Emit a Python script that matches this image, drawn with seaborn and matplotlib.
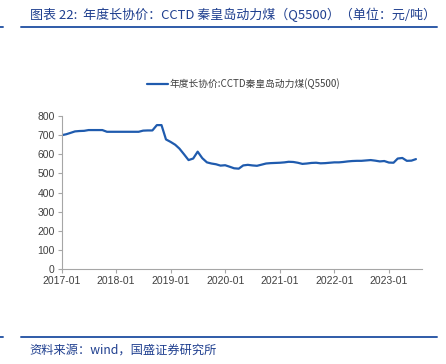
import pandas as pd
import numpy as np
import matplotlib.pyplot as plt
import matplotlib.dates as mdates
import seaborn as sns

# 数据: CCTD 秦皇岛动力煤 (Q5500) 年度长协价, 月度 2017-01 ~ 2023-07
months = pd.date_range("2017-01-01", "2023-07-01", freq="MS")
prices = [700, 705, 712, 720, 722, 723, 727, 727, 727, 727, 718, 718,
          718, 718, 718, 718, 718, 718, 724, 725, 725, 753, 753, 678,
          665, 650, 630, 600, 570, 578, 614, 580, 558, 552, 548, 541,
          543, 535, 527, 525, 542, 545, 542, 540, 546, 552, 554, 555,
          556, 558, 561, 560, 556, 550, 552, 555, 556, 553, 554, 556,
          558, 558, 560, 563, 565, 566, 566, 568, 570, 567, 563, 565,
          557, 556, 578, 581, 566, 567, 575]
series_name = "年度长协价:CCTD秦皇岛动力煤(Q5500)"
yticks = [0, 100, 200, 300, 400, 500, 600, 700, 800]

df = pd.DataFrame({"date": months, "price": prices})

sns.set_style("white")
plt.rcParams['font.family'] = ['Noto Sans CJK SC', 'DejaVu Sans']
plt.rcParams['axes.unicode_minus'] = False

blue = "#1F5BAE"
dark_blue = "#1F3F8F"
grey = "#404040"

fig = plt.figure(figsize=(4.46, 3.64), dpi=100)
ax = fig.add_axes([0.138, 0.261, 0.808, 0.42])

sns.lineplot(data=df, x="date", y="price", ax=ax, color=blue,
             linewidth=1.6, label=series_name)

ax.set_ylim(0, 800)
ax.set_yticks(yticks)
ax.set_xlim(pd.Timestamp("2017-01-01"), pd.Timestamp("2023-08-10"))
ax.xaxis.set_major_locator(mdates.YearLocator(month=1))
ax.xaxis.set_major_formatter(mdates.DateFormatter("%Y-%m"))
ax.set_xlabel("")
ax.set_ylabel("")

for s in ["top", "right"]:
    ax.spines[s].set_visible(False)
for s in ["left", "bottom"]:
    ax.spines[s].set_color("#A6A6A6")
    ax.spines[s].set_linewidth(0.8)
ax.tick_params(axis="both", which="major", length=3, width=0.8,
               color="#A6A6A6", labelsize=7.5, labelcolor=grey, pad=2,
               direction="out", left=True, bottom=True)
for lab in ax.get_xticklabels() + ax.get_yticklabels():
    lab.set_family(['Liberation Sans', 'DejaVu Sans'])

leg = ax.legend(loc="lower center", bbox_to_anchor=(0.505, 1.15),
                frameon=False, fontsize=7, handlelength=2.2,
                handletextpad=0.2, borderaxespad=0)
for t in leg.get_texts():
    t.set_color(grey)

# 标题和来源
fig.text(0.067, 0.958, "图表 22:  年度长协价：CCTD 秦皇岛动力煤（Q5500）（单位：元/吨）",
         fontsize=9.4, color=dark_blue, style="italic", va="center", ha="left")
for y in [0.925, 0.074]:
    fig.add_artist(plt.Line2D([0.047, 0.98], [y, y], color="#2F5BA8",
                              linewidth=1.4, transform=fig.transFigure))
    fig.add_artist(plt.Line2D([0.0, 0.006], [y, y], color="#2F5BA8",
                              linewidth=1.4, transform=fig.transFigure))
fig.text(0.067, 0.038, "资料来源：wind，国盛证券研究所", fontsize=8.8,
         color=dark_blue, style="italic", va="center", ha="left")

fig.savefig("out.png", dpi=100)
